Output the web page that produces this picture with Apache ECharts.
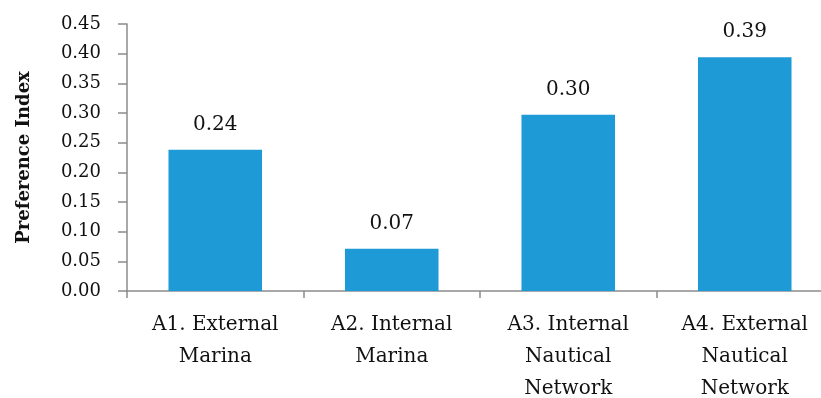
<!DOCTYPE html>
<html>
<head>
<meta charset="utf-8">
<script src="https://cdn.jsdelivr.net/npm/echarts@6/dist/echarts.min.js"></script>
<style>
  html, body { margin: 0; padding: 0; background: #fff; }
  #chart { width: 821px; height: 398px; }
</style>
</head>
<body>
<div id="chart"></div>
<script>
// categories along x (line breaks as in the figure)
var categories = [
    'A1. External\nMarina',
    'A2. Internal\nMarina',
    'A3. Internal\nNautical\nNetwork',
    'A4. External\nNautical\nNetwork'
];
// preference index values
var prefValues = [0.238, 0.071, 0.297, 0.394];
// y axis range
var yMin = 0, yMax = 0.45, yStep = 0.05;

var fontName = 'DejaVu Serif';
var axisColor = '#8c8c8c';

var chart = echarts.init(document.getElementById('chart'));
chart.setOption({
    animation: false,
    grid: {
        left: 127,
        right: -12,
        top: 24,
        bottom: 107,
        containLabel: false,
        outerBoundsMode: 'none'
    },
    xAxis: {
        type: 'category',
        data: categories,
        axisLine: { show: true, lineStyle: { color: axisColor, width: 1.5 } },
        axisTick: { show: true, length: 7, alignWithLabel: false, lineStyle: { color: axisColor, width: 1.5 } },
        axisLabel: {
            interval: 0,
            margin: 18,
            color: '#111',
            fontFamily: fontName,
            fontSize: 20,
            lineHeight: 32
        }
    },
    yAxis: {
        type: 'value',
        min: yMin,
        max: yMax,
        interval: yStep,
        name: 'Preference Index',
        nameLocation: 'middle',
        nameGap: 94,
        nameRotate: 90,
        nameTextStyle: {
            color: '#111',
            fontFamily: fontName,
            fontSize: 18,
            fontWeight: 'bold'
        },
        axisLine: { show: true, lineStyle: { color: axisColor, width: 1.5 } },
        axisTick: { show: true, length: 9, lineStyle: { color: axisColor, width: 1.5 } },
        splitLine: { show: false },
        axisLabel: {
            margin: 26,
            color: '#111',
            fontFamily: fontName,
            fontSize: 18,
            formatter: function (v) { return v.toFixed(2); }
        }
    },
    series: [{
        type: 'bar',
        data: prefValues,
        barWidth: '53%',
        itemStyle: { color: '#1e9ad6' },
        label: {
            show: true,
            position: 'top',
            distance: 15,
            color: '#111',
            fontFamily: fontName,
            fontSize: 20,
            formatter: function (p) { return p.value.toFixed(2); }
        }
    }]
});
</script>
</body>
</html>
